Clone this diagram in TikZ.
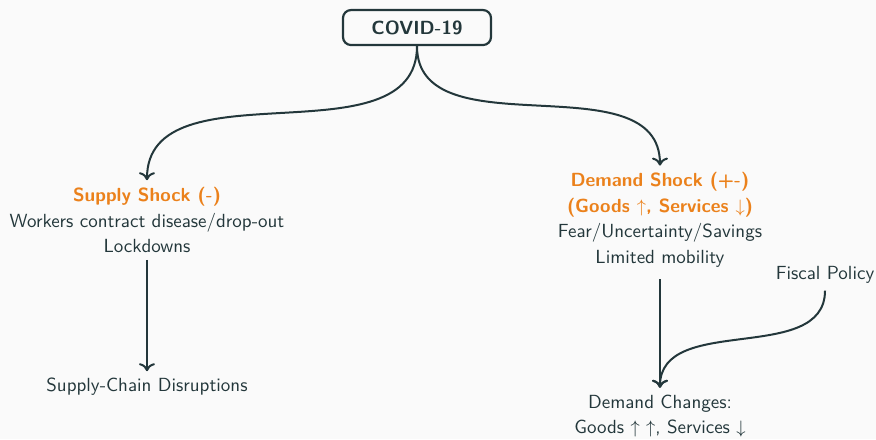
\documentclass[tikz,border=0pt]{standalone}
\usepackage{amsmath,amssymb}
\usetikzlibrary{arrows.meta}
\definecolor{mDark}{HTML}{23373B}
\definecolor{mOrange}{HTML}{EB811B}
\definecolor{mBg}{HTML}{FAFAFA}
\tikzset{
  txt/.style={font=\sffamily\fontsize{9.5}{12.75}\selectfont,text=mDark,align=center},
  startbox/.style={txt,draw=mDark,line width=1.1pt,rounded corners=4pt,minimum width=74pt,minimum height=17.5pt,font=\sffamily\bfseries\fontsize{9.5}{12.75}\selectfont},
  arr/.style={->,draw=mDark,line width=1pt}
}
\newcommand{\alrt}[1]{\textcolor{mOrange}{\bfseries #1}}
\begin{document}
\begin{tikzpicture}[>={To[length=4pt,width=8pt]},every node/.style={txt}]
  \fill[mBg] (0,0) rectangle (15.394,7.715);
  \useasboundingbox (0,0) rectangle (15.394,7.715);

  \node[startbox] (C) at (7.328,7.231) {COVID-19};
  \node (S) at (2.583,3.849) {\alrt{Supply Shock (-)}\\Workers contract disease/drop-out\\Lockdowns};
  \node (D) at (11.598,3.849) {\alrt{Demand Shock (+-)}\\\alrt{(Goods $\uparrow$, Services $\downarrow$)}\\Fear/Uncertainty/Savings\\Limited mobility};
  \node (F) at (14.498,2.882) {Fiscal Policy};
  \node (SC) at (2.583,0.914) {Supply-Chain Disruptions};
  \node (DC) at (11.598,0.404) {Demand Changes:\\Goods $\uparrow$ $\uparrow$, Services $\downarrow$};

  \draw[arr] (C.south) to[out=-90,in=90] (S.north);
  \draw[arr] (C.south) to[out=-90,in=90] (D.north);
  \draw[arr] (S.south) -- (SC.north);
  \draw[arr] ([yshift=-2.5pt]D.south) -- (DC.north);
  \draw[arr] (F.south) to[out=-90,in=90] (DC.north);
\end{tikzpicture}
\end{document}
